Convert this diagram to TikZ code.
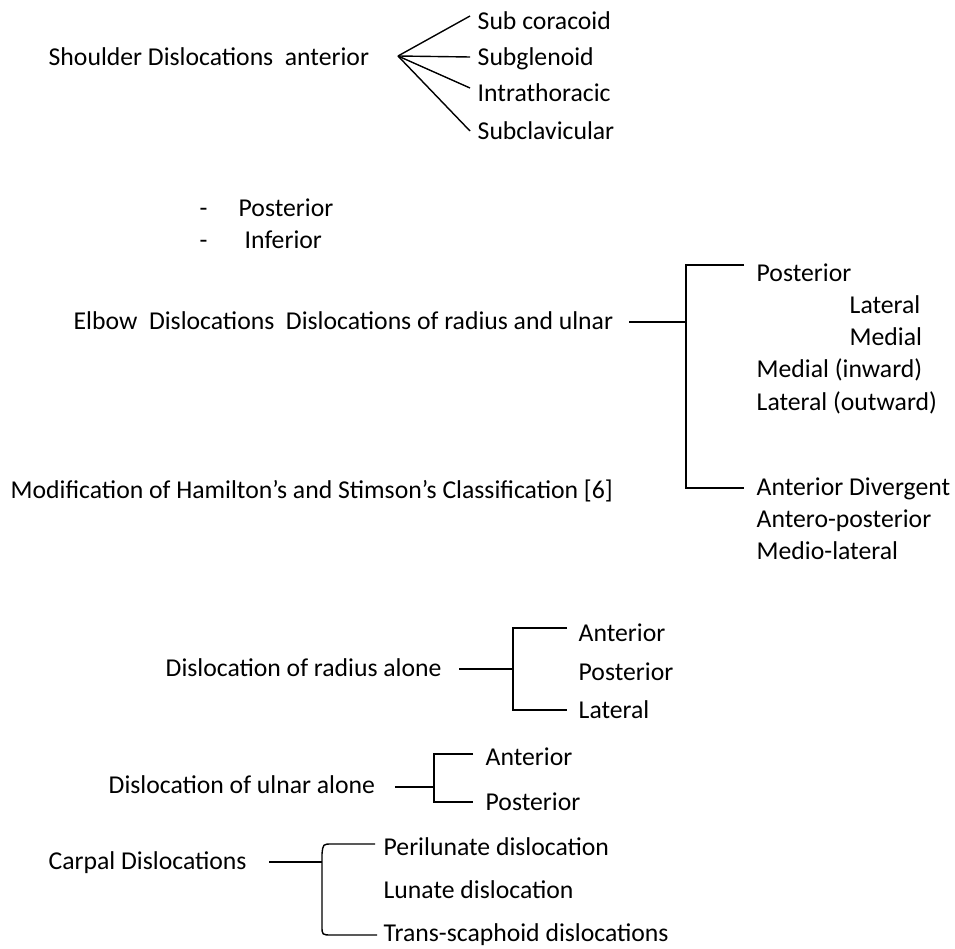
\documentclass[tikz,border=0pt]{standalone}
\usepackage{fontspec}
\setmainfont{Carlito}
\usepackage{tikz}

\begin{document}
\begin{tikzpicture}[x=1pt, y=-1pt, line width=1.4pt]
            \tikzset{lbl/.style={anchor=west, inner sep=0pt, text height=22pt, text depth=5pt, font=\fontsize{25.7}{30}\selectfont}}
            \useasboundingbox (0,0) rectangle (955,949);
            % shoulder
            \node [lbl] (shoulder) at (48,57) {Shoulder Dislocations\ \ anterior};
            \coordinate (fan) at (398,56);
            \node [lbl] (subcor) at (477,21) {Sub coracoid};
            \node [lbl] (subgl) at (477,57) {Subglenoid};
            \node [lbl] (intra) at (477,93) {Intrathoracic};
            \node [lbl] (subcl) at (477,131) {Subclavicular};
            \draw (fan) -- ([shift={(-7,-5)}]subcor.west);
            \draw (fan) -- ([xshift=-7]subgl.west);
            \draw (fan) -- ([shift={(-7,-5)}]intra.west);
            \draw (fan) -- ([xshift=-7]subcl.west);
            \node [lbl] (dash1) at (199,208) {-};
            \node [lbl] (spost) at (238,208) {Posterior};
            \node [lbl] (dash2) at (199,240) {-};
            \node [lbl] (sinf) at (244,240) {Inferior};
            % elbow
            \node [lbl] (elbow) at (73,321) {Elbow\ \ Dislocations\ \ Dislocations of radius and ulnar};
            \node [lbl] (hamilton) at (10,490) {Modification of Hamilton’s and Stimson’s Classification [6]};
            \coordinate (ej) at (686,322);
            \coordinate (ejt) at (686,265);
            \coordinate (ejb) at (686,488);
            \node [lbl] (epost) at (756,273) {Posterior};
            \node [lbl] (elat) at (849,305) {Lateral};
            \node [lbl] (emed) at (849,337) {Medial};
            \node [lbl] (emedin) at (756,369) {Medial (inward)};
            \node [lbl] (elatout) at (756,402) {Lateral (outward)};
            \node [lbl] (eant) at (756,487) {Anterior Divergent};
            \node [lbl] (eantpost) at (756,519) {Antero-posterior};
            \node [lbl] (emedlat) at (756,551) {Medio-lateral};
            \draw (629,322) -- (ej);
            \draw ([xshift=-12]epost.west |- ejt) -- (ejt) -- (ejb) -- ([xshift=-12]eant.west |- ejb);
            % radius alone
            \node [lbl] (radius) at (165,668) {Dislocation of radius alone};
            \coordinate (rj) at (513,669);
            \node [lbl] (rant) at (578,633) {Anterior};
            \node [lbl] (rpost) at (578,672) {Posterior};
            \node [lbl] (rlat) at (578,710) {Lateral};
            \draw ([xshift=17]radius.east |- rj) -- (rj);
            \draw ([xshift=-11]rant.west |- 0,628) -- (513,628) -- (513,710) -- ([xshift=-11]rlat.west);
            % ulnar alone
            \node [lbl] (ulnar) at (108,785) {Dislocation of ulnar alone};
            \coordinate (uj) at (434,787);
            \node [lbl] (uant) at (485,757) {Anterior};
            \node [lbl] (upost) at (485,802) {Posterior};
            \draw ([xshift=19]ulnar.east |- uj) -- (uj);
            \draw ([xshift=-12]uant.west |- 0,754) -- (434,754) -- (434,802) -- ([xshift=-12]upost.west);
            % carpal
            \node [lbl] (carpal) at (48,861) {Carpal Dislocations};
            \coordinate (cj) at (322,862);
            \node [lbl] (cperi) at (383,847) {Perilunate dislocation};
            \node [lbl] (clun) at (383,890) {Lunate dislocation};
            \node [lbl] (ctrans) at (383,933) {Trans-scaphoid dislocations};
            \draw ([xshift=22]carpal.east |- cj) -- (cj);
            \draw ([xshift=-8]cperi.west |- 0,844) -- (332,844) .. controls (323,844) .. (322,854) -- (322,926) .. controls (322,935) .. (332,935) -- ([xshift=-6]ctrans.west |- 0,935);
\end{tikzpicture}
\end{document}
